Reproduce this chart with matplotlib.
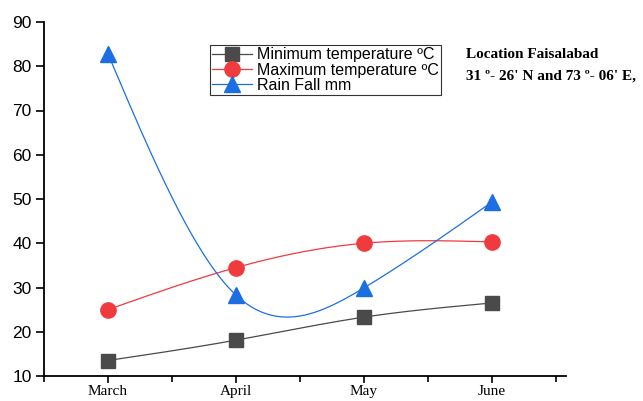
import numpy as np
import matplotlib
matplotlib.use('Agg')
import matplotlib.pyplot as plt

months = ['March', 'April', 'May', 'June']
min_temp = [13.5, 18.1, 23.3, 26.5]
max_temp = [25.0, 34.5, 40.0, 40.3]
rain = [82.8, 28.3, 29.9, 49.3]


def spline(y, n=200):
    # natural cubic spline through equally spaced points
    y = np.asarray(y, float)
    k = len(y)
    A = np.zeros((k, k))
    b = np.zeros(k)
    A[0, 0] = A[-1, -1] = 1
    for i in range(1, k - 1):
        A[i, i - 1], A[i, i], A[i, i + 1] = 1, 4, 1
        b[i] = 6 * (y[i - 1] - 2 * y[i] + y[i + 1])
    m = np.linalg.solve(A, b)
    xs = np.linspace(0, k - 1, n)
    i = np.minimum(xs.astype(int), k - 2)
    t = xs - i
    ys = ((1 - t) * y[i] + t * y[i + 1]
          + ((1 - t) ** 3 - (1 - t)) * m[i] / 6 + (t ** 3 - t) * m[i + 1] / 6)
    return xs, ys


fig = plt.figure(figsize=(6.43, 4.01), dpi=100)
ax = fig.add_axes([44 / 643, 25 / 401, 522 / 643, 354 / 401])

x = np.arange(len(months))
series = [
    (min_temp, '#4a4a4a', 's', 'Minimum temperature ºC', 10),
    (max_temp, '#ef3b3e', 'o', 'Maximum temperature ºC', 11),
    (rain, '#1c6fe3', '^', 'Rain Fall mm', 12),
]
for vals, col, mk, lab, ms in series:
    xs, ys = spline(vals)
    ax.plot(xs, ys, color=col, lw=0.9)
    ax.plot(x, vals, mk, color=col, ms=ms, mec=col)
    ax.plot([], [], color=col, marker=mk, ms=ms, lw=0.9, label=lab)

ax.set_xlim(-0.5, 3.58)
ax.set_ylim(10, 90)
ax.set_yticks(range(10, 91, 10))
ax.set_xticks(x)
ax.set_xticks(np.arange(-0.5, 3.6, 1), minor=True)
ax.set_xticklabels(months, fontfamily='Liberation Serif', fontsize=11)
for lbl in ax.get_yticklabels():
    lbl.set_fontfamily('Liberation Sans')
    lbl.set_fontsize(12.5)
ax.tick_params(axis='y', direction='out', width=1.2, length=6, pad=3)
ax.tick_params(axis='x', direction='out', width=1.2, length=5, pad=1.5)
ax.tick_params(which='minor', direction='out', width=1.2, length=4)
ax.spines['top'].set_visible(False)
ax.spines['right'].set_visible(False)
ax.spines['left'].set_linewidth(1.3)
ax.spines['bottom'].set_linewidth(1.3)

leg = ax.legend(loc='upper left', bbox_to_anchor=(166 / 522, 1 - 23 / 354),
                prop={'family': 'Liberation Sans', 'size': 11.5},
                frameon=True, fancybox=False, borderpad=0.15,
                labelspacing=0.02, handlelength=2.5, handletextpad=0.3,
                borderaxespad=0)
leg.get_frame().set_edgecolor('black')
leg.get_frame().set_linewidth(0.8)

fig.text(466 / 643, 1 - 55 / 401, 'Location Faisalabad', fontfamily='Liberation Serif',
         fontweight='bold', fontsize=11, va='center')
fig.text(466 / 643, 1 - 76 / 401, "31 º- 26' N and 73 º- 06' E,",
         fontfamily='Liberation Serif', fontweight='bold', fontsize=11, va='center')

fig.savefig('out.png', dpi=100)
